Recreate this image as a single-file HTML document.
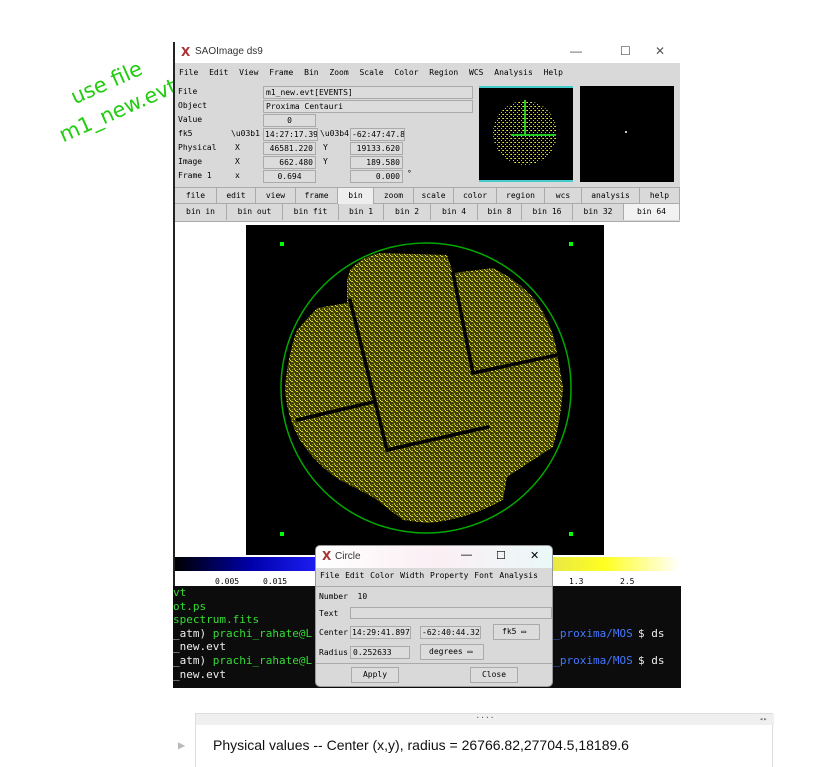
<!DOCTYPE html>
<html><head><meta charset="utf-8"><style>
*{margin:0;padding:0;box-sizing:border-box}
body{width:834px;height:767px;background:#fff;position:relative;overflow:hidden;font-family:"DejaVu Sans Mono","Liberation Mono",monospace;font-size:8px;color:#000}
.a{position:absolute}
.fld{position:absolute;background:#dcdcdc;border:1px solid #aaa;font-size:8px;line-height:11px;padding:0 2px;white-space:nowrap;overflow:hidden}
.btn{position:absolute;text-align:center;font-size:8px;line-height:16px;border-right:1px solid #aaa}
.lbl{position:absolute;font-size:8px;white-space:nowrap}
</style></head><body>
<div class="a" style="left:42px;top:95px;transform:rotate(-24deg);transform-origin:0 0;color:#22cc11;font-family:'DejaVu Sans',sans-serif;font-size:21px;line-height:30px;width:170px">
<div style="margin-left:26px">use file</div><div>m1_new.evt</div></div>

<div class="a" style="left:173px;top:42px;width:507px;height:546px;background:#d9d9d9;border-left:2px solid #222">
 <div class="a" style="left:0;top:0;width:505px;height:21px;background:#fff">
  <span class="a" style="left:6px;top:3px;font:bold 12px 'DejaVu Sans';color:#a33">X</span>
  <span class="a" style="left:20px;top:4px;font:10px 'Liberation Sans';color:#333">SAOImage ds9</span>
  <span class="a" style="left:395px;top:2px;font:12px 'Liberation Sans';color:#555">—</span>
  <span class="a" style="left:445px;top:2px;font:12px 'Liberation Sans';color:#555">☐</span>
  <span class="a" style="left:480px;top:2px;font:12px 'Liberation Sans';color:#555">✕</span>
 </div>
 <div class="a" style="left:0;top:23px;width:505px;height:16px;font-size:8px;line-height:16px;word-spacing:6px;padding-left:4px;white-space:nowrap">File Edit View Frame Bin Zoom Scale Color Region WCS Analysis Help</div>
 <div class="a" style="left:0;top:42px;width:505px;height:100px">
  <div class="lbl" style="left:3px;top:3px">File</div><div class="lbl" style="left:3px;top:17px">Object</div><div class="lbl" style="left:3px;top:31px">Value</div><div class="lbl" style="left:3px;top:45px">fk5</div><div class="lbl" style="left:3px;top:59px">Physical</div><div class="lbl" style="left:3px;top:73px">Image</div><div class="lbl" style="left:3px;top:87px">Frame 1</div>
  <div class="lbl" style="left:56px;top:45px">\u03b1</div><div class="lbl" style="left:60px;top:59px">X</div><div class="lbl" style="left:60px;top:73px">X</div><div class="lbl" style="left:60px;top:87px">x</div>
  <div class="fld" style="left:88px;top:2px;width:210px">m1_new.evt[EVENTS]</div>
  <div class="fld" style="left:88px;top:16px;width:210px">Proxima Centauri</div>
  <div class="fld" style="left:88px;top:30px;width:53px;text-align:center">0</div>
  <div class="fld" style="left:88px;top:44px;width:55px;padding:0 1px">14:27:17.39</div>
  <div class="lbl" style="left:145px;top:45px">\u03b4</div>
  <div class="fld" style="left:175px;top:44px;width:55px;padding:0 1px">-62:47:47.8</div>
  <div class="fld" style="left:88px;top:58px;width:53px;text-align:right">46581.220</div><div class="lbl" style="left:148px;top:59px">Y</div>
  <div class="fld" style="left:175px;top:58px;width:53px;text-align:right">19133.620</div>
  <div class="fld" style="left:88px;top:72px;width:53px;text-align:right">662.480</div><div class="lbl" style="left:148px;top:73px">Y</div>
  <div class="fld" style="left:175px;top:72px;width:53px;text-align:right">189.580</div>
  <div class="fld" style="left:88px;top:86px;width:53px;text-align:center">0.694</div>
  <div class="fld" style="left:175px;top:86px;width:53px;text-align:right">0.000</div><div class="lbl" style="left:232px;top:85px">°</div>
  <svg class="a" style="left:304px;top:2px" width="94" height="96">
   <defs><pattern id="pp" width="4" height="4" patternUnits="userSpaceOnUse"><rect width="4" height="4" fill="#000"/><rect x="0" y="0" width="1" height="1" fill="#ee3"/><rect x="2" y="2" width="1" height="1" fill="#cc2"/><rect x="3" y="0" width="1" height="1" fill="#aa2"/></pattern></defs>
   <rect width="94" height="96" fill="#000"/><rect width="94" height="2" fill="#4cc"/><rect y="94" width="94" height="2" fill="#4cc"/>
   <circle cx="46" cy="47" r="32" fill="url(#pp)"/>
   <rect x="45" y="14" width="2" height="36" fill="#2c2"/><rect x="32" y="48" width="45" height="2" fill="#2c2"/>
  </svg>
  <div class="a" style="left:405px;top:2px;width:94px;height:96px;background:#000"><div class="a" style="left:45px;top:45px;width:2px;height:2px;background:#ccc"></div></div>
 </div>
 <div class="a" style="left:0;top:145px;width:505px;height:17px;border-top:1px solid #aaa;border-bottom:1px solid #aaa">
  <div class="btn" style="left:0;width:42px">file</div><div class="btn" style="left:42px;width:39px">edit</div><div class="btn" style="left:81px;width:40px">view</div><div class="btn" style="left:121px;width:42px">frame</div><div class="btn" style="left:163px;width:36px;background:#eee">bin</div><div class="btn" style="left:199px;width:40px">zoom</div><div class="btn" style="left:239px;width:40px">scale</div><div class="btn" style="left:279px;width:43px">color</div><div class="btn" style="left:322px;width:48px">region</div><div class="btn" style="left:370px;width:37px">wcs</div><div class="btn" style="left:407px;width:58px">analysis</div><div class="btn" style="left:465px;width:40px">help</div>
 </div>
 <div class="a" style="left:0;top:162px;width:505px;height:18px;border-bottom:1px solid #aaa">
  <div class="btn" style="left:0;width:52px">bin in</div><div class="btn" style="left:52px;width:56px">bin out</div><div class="btn" style="left:108px;width:56px">bin fit</div><div class="btn" style="left:164px;width:45px">bin 1</div><div class="btn" style="left:209px;width:47px">bin 2</div><div class="btn" style="left:256px;width:47px">bin 4</div><div class="btn" style="left:303px;width:44px">bin 8</div><div class="btn" style="left:347px;width:51px">bin 16</div><div class="btn" style="left:398px;width:51px">bin 32</div><div class="btn" style="left:449px;width:56px;background:#f2f2f2">bin 64</div>
 </div>
 <div class="a" style="left:0;top:180px;width:505px;height:335px;background:#fff">
  <svg class="a" style="left:71px;top:3px" width="358" height="330">
   <defs><pattern id="p" width="5" height="5" patternUnits="userSpaceOnUse"><rect width="5" height="5" fill="#3e3e06"/><rect x="0" y="1" width="2" height="1" fill="#d8d820"/><rect x="3" y="3" width="1" height="2" fill="#c4c418"/><rect x="4" y="0" width="1" height="1" fill="#eeee30"/><rect x="1" y="4" width="1" height="1" fill="#9a9a10"/><rect x="2" y="2" width="1" height="1" fill="#707010"/></pattern></defs>
   <rect width="358" height="330" fill="#000"/>
   <path d="M101 55 L104 45 Q115 32 134 28 L201 30 L207 48 L247 43 Q280 60 294 82 Q308 105 311 128 L317 162 Q315 195 307 222 L261 252 L257 275 Q220 295 181 298 L157 295 L127 272 L94 255 Q70 240 54 215 Q40 190 39 162 Q42 130 51 105 L71 83 L101 78 Z" fill="url(#p)"/>
   <g stroke="#000" stroke-width="3.5" fill="none" stroke-linecap="round">
    <line x1="104" y1="75" x2="141" y2="225"/><line x1="141" y1="225" x2="242" y2="202"/><line x1="51" y1="195" x2="127" y2="177"/><line x1="227" y1="148" x2="311" y2="130"/><line x1="207" y1="48" x2="227" y2="148"/>
   </g>
   <circle cx="180" cy="163" r="145" fill="none" stroke="#0a0" stroke-width="1.5"/>
   <g fill="#0f0"><rect x="34" y="17" width="4" height="4"/><rect x="323" y="17" width="4" height="4"/><rect x="34" y="307" width="4" height="4"/><rect x="323" y="307" width="4" height="4"/></g>
  </svg>
 </div>
 <div class="a" style="left:0;top:515px;width:505px;height:14px;background:linear-gradient(90deg,#000 0,#00a 15%,#22f 30%,#66e 45%,#a9a 55%,#dd5 70%,#ff2 85%,#fff 100%)"></div>
 <div class="a" style="left:0;top:529px;width:505px;height:15px;background:#fff;font-size:8px">
  <span class="a" style="left:40px;top:6px">0.005</span><span class="a" style="left:88px;top:6px">0.015</span><span class="a" style="left:394px;top:6px">1.3</span><span class="a" style="left:445px;top:6px">2.5</span>
 </div>
</div>

<div class="a" style="left:173px;top:586px;width:508px;height:102px;background:#0c0c0c;font-family:'DejaVu Sans Mono',monospace;font-size:11px;line-height:13.6px;color:#eee;white-space:nowrap;overflow:hidden;padding-top:0"><div style="color:#3d3">vt</div><div style="color:#3d3">ot.ps</div><div style="color:#3d3">spectrum.fits</div><div style="position:relative">_atm) <span style="color:#3d3">prachi_rahate@L</span><span style="position:absolute;left:367px;color:#47f">is_proxima/MOS</span><span style="position:absolute;left:465px">$ ds</span></div><div>_new.evt</div><div style="position:relative">_atm) <span style="color:#3d3">prachi_rahate@L</span><span style="position:absolute;left:367px;color:#47f">is_proxima/MOS</span><span style="position:absolute;left:465px">$ ds</span></div><div>_new.evt</div></div>

<div class="a" style="left:315px;top:545px;width:238px;height:142px;background:#d9d9d9;border:1px solid #999;border-radius:5px;overflow:hidden">
 <div class="a" style="left:0;top:0;width:238px;height:22px;background:linear-gradient(90deg,#fff,#fbeff4,#eaf8f8)">
  <span class="a" style="left:6px;top:3px;font:bold 12px 'DejaVu Sans';color:#a33">X</span>
  <span class="a" style="left:19px;top:5px;font:10px 'Liberation Sans';color:#333">Circle</span>
  <span class="a" style="left:145px;top:3px;font:11px 'Liberation Sans'">—</span>
  <span class="a" style="left:180px;top:3px;font:11px 'Liberation Sans'">☐</span>
  <span class="a" style="left:214px;top:3px;font:11px 'Liberation Sans'">✕</span>
 </div>
 <div class="a" style="left:4px;top:25px;font-size:8px;word-spacing:1px;white-space:nowrap">File Edit Color Width Property Font Analysis</div>
 <div class="a" style="left:0;top:40px;width:238px;border-top:1px solid #aaa"></div>
 <div class="lbl" style="left:3px;top:46px">Number&nbsp; 10</div>
 <div class="lbl" style="left:3px;top:63px">Text</div><div class="fld" style="left:34px;top:61px;width:202px;height:12px"></div>
 <div class="lbl" style="left:3px;top:82px">Center</div>
 <div class="fld" style="left:34px;top:80px;width:61px;padding:0 1px">14:29:41.897</div>
 <div class="fld" style="left:104px;top:80px;width:61px;padding:0 1px">-62:40:44.32</div>
 <div class="fld" style="left:177px;top:78px;width:47px;height:16px;line-height:14px;padding-left:8px">fk5 ▭</div>
 <div class="lbl" style="left:3px;top:102px">Radius</div>
 <div class="fld" style="left:34px;top:100px;width:60px">0.252633</div>
 <div class="fld" style="left:104px;top:98px;width:64px;height:16px;line-height:14px;padding-left:8px">degrees ▭</div>
 <div class="a" style="left:0;top:117px;width:238px;border-top:1px solid #aaa"></div>
 <div class="fld" style="left:35px;top:121px;width:48px;height:16px;line-height:14px;text-align:center">Apply</div>
 <div class="fld" style="left:154px;top:121px;width:48px;height:16px;line-height:14px;text-align:center">Close</div>
</div>

<div class="a" style="left:195px;top:713px;width:578px;height:54px;border:1px solid #ddd;border-bottom:none">
 <div class="a" style="left:0;top:0;width:578px;height:11px;background:#f0f0f0;font-size:8px;text-align:center;line-height:8px;color:#555">····</div>
 <span class="a" style="left:563px;top:1px;font-size:7px;color:#777">◂▸</span>
 <span class="a" style="left:-18px;top:24px;font-size:12px;color:#bbb">▶</span>
 <div class="a" style="left:17px;top:23px;font:14px 'Liberation Sans',sans-serif;white-space:nowrap;color:#111">Physical values -- Center (x,y), radius = 26766.82,27704.5,18189.6</div>
</div>
</body></html>
